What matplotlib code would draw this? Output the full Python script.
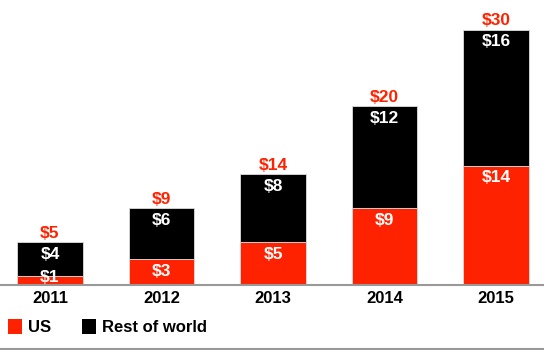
import matplotlib.pyplot as plt
from matplotlib.patches import Patch
import numpy as np

years = ['2011', '2012', '2013', '2014', '2015']
us = [1, 3, 5, 9, 14]
rest = [4, 6, 8, 12, 16]
totals = [5, 9, 14, 20, 30]

red = '#ff2200'
plt.rcParams['font.family'] = ['Liberation Sans', 'DejaVu Sans']
plt.rcParams['font.weight'] = 'bold'

fig = plt.figure(figsize=(5.44, 3.5), dpi=100)
ax = fig.add_axes([0, 65 / 350, 1, 285 / 350])

x = np.arange(len(years))
w = 0.585
ax.bar(x, us, w, color=red, edgecolor='#dddddd', linewidth=0.6)
ax.bar(x, rest, w, bottom=us, color='black', edgecolor='#dddddd', linewidth=0.6)

for i in range(len(years)):
    if us[i] >= 2:
        ax.annotate('$%d' % us[i], (x[i], us[i]), xytext=(0, -3), textcoords='offset points',
                    ha='center', va='top', color='white', fontsize=12.5, fontweight='bold')
    else:
        # segment too short for the label: sit it on the baseline
        ax.annotate('$%d' % us[i], (x[i], 0), xytext=(0, 0), textcoords='offset points',
                    ha='center', va='bottom', color='white', fontsize=12.5, fontweight='bold')
    ax.annotate('$%d' % rest[i], (x[i], us[i] + rest[i]), xytext=(0, -3), textcoords='offset points',
                ha='center', va='top', color='white', fontsize=12.5, fontweight='bold')
    ax.annotate('$%d' % totals[i], (x[i], us[i] + rest[i]), xytext=(0, 1), textcoords='offset points',
                ha='center', va='bottom', color=red, fontsize=12.5, fontweight='bold')

ax.set_xlim(-0.448, 4.43)
ax.set_ylim(0, 33.5)
ax.set_xticks(x)
ax.set_xticklabels(years, fontsize=12, fontweight='bold')
ax.tick_params(axis='x', length=0, pad=4)
ax.set_yticks([])
for s in ['top', 'right', 'left']:
    ax.spines[s].set_visible(False)
ax.spines['bottom'].set_color('#999999')
ax.spines['bottom'].set_linewidth(1.5)

handles = [Patch(facecolor=red, label='US'), Patch(facecolor='black', label='Rest of world')]
fig.legend(handles=handles, loc='lower left', bbox_to_anchor=(-0.012, 0.0), ncol=2, frameon=False,
           prop={'size': 12, 'weight': 'bold'}, handlelength=0.8, handleheight=1.0,
           handletextpad=0.35, columnspacing=1.9)

fig.add_artist(plt.Line2D([0, 1], [0.003, 0.003], color='#999999', linewidth=1.5))

fig.savefig('out.png', dpi=100)
